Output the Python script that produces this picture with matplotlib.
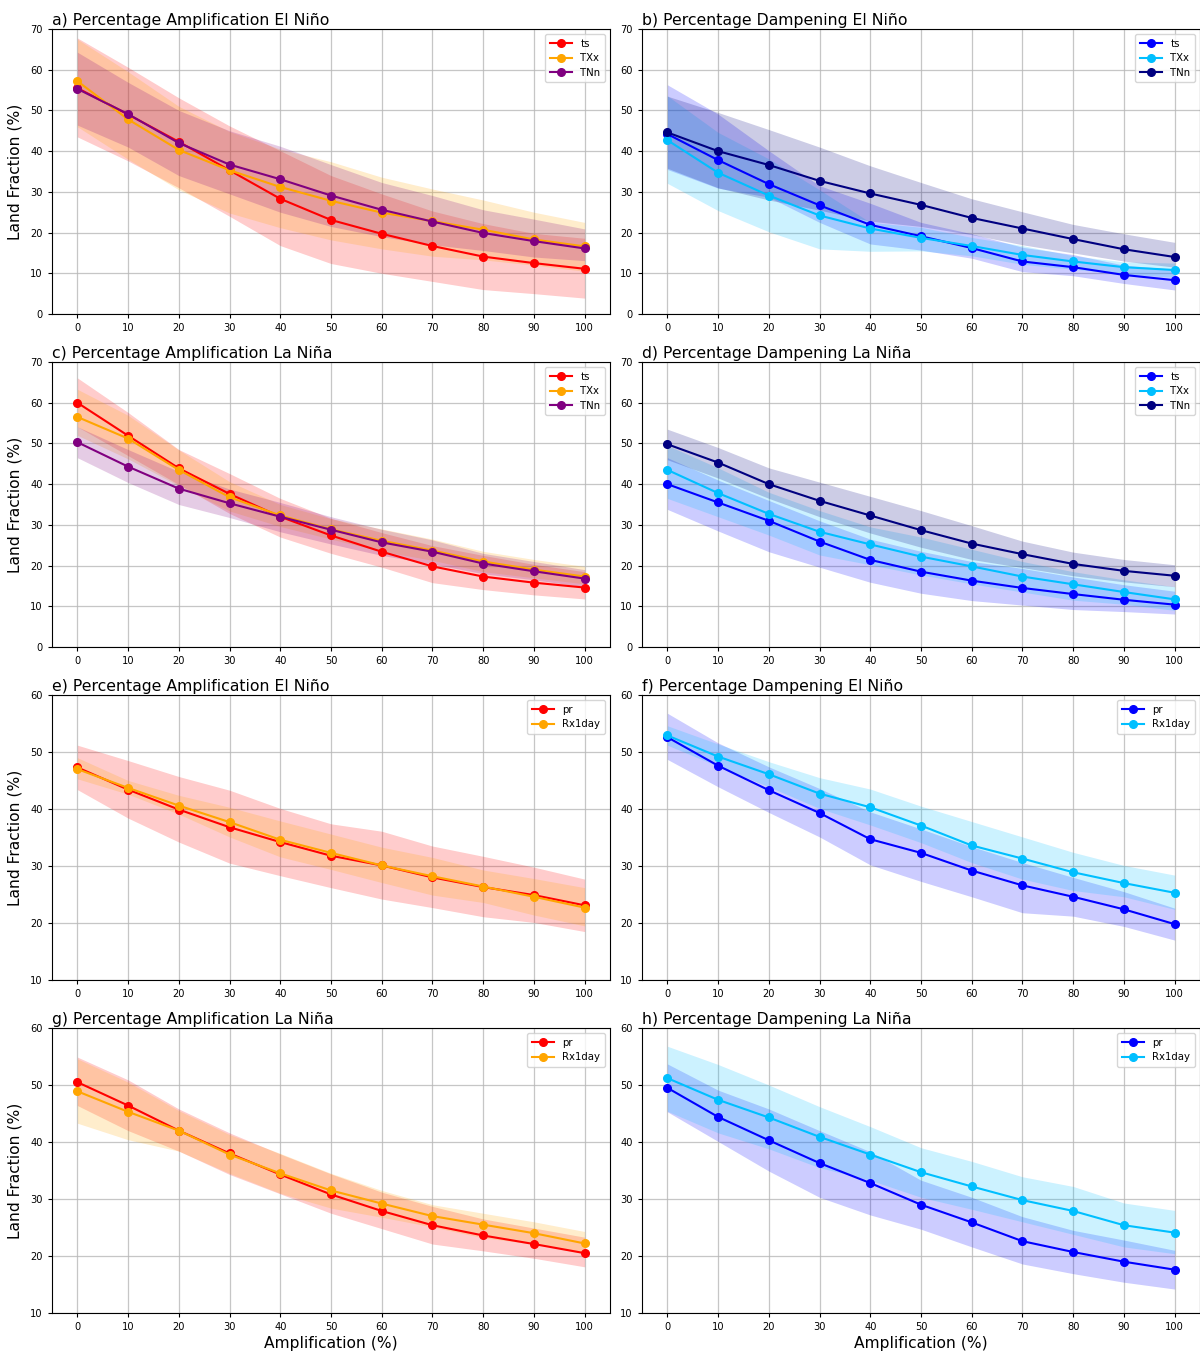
import matplotlib
matplotlib.use("Agg")
import matplotlib.pyplot as plt
import numpy as np

amp = [0, 10, 20, 30, 40, 50, 60, 70, 80, 90, 100]

# ---- a) Amplification El Nino (temperature)
a_ts = [55.5, 49.0, 42.3, 35.3, 28.3, 23.1, 19.7, 16.7, 14.1, 12.5, 11.1]
a_ts_lo = [43.5, 37.6, 31.0, 24.0, 16.8, 12.4, 10.0, 8.0, 6.0, 5.0, 3.9]
a_ts_hi = [67.8, 60.6, 53.1, 46.2, 40.1, 34.0, 29.5, 25.3, 22.2, 19.8, 18.6]
a_txx = [57.2, 47.8, 40.3, 35.3, 31.2, 27.8, 24.9, 22.8, 20.7, 18.3, 16.6]
a_txx_lo = [46.0, 38.0, 30.5, 24.8, 21.2, 18.2, 16.0, 14.2, 13.3, 12.0, 10.5]
a_txx_hi = [67.5, 59.5, 51.0, 44.8, 40.5, 37.4, 33.6, 30.7, 28.0, 25.0, 22.5]
a_tnn = [55.3, 49.1, 42.0, 36.7, 33.1, 29.1, 25.6, 22.7, 19.9, 17.9, 16.1]
a_tnn_lo = [46.4, 41.0, 34.0, 29.5, 25.0, 21.5, 19.0, 17.0, 15.6, 14.0, 13.1]
a_tnn_hi = [64.3, 56.9, 50.0, 45.0, 41.2, 36.7, 32.3, 29.1, 25.6, 23.3, 20.9]

# ---- b) Dampening El Nino (temperature)
b_ts = [44.2, 37.8, 31.9, 26.7, 21.9, 19.1, 16.2, 12.9, 11.5, 9.6, 8.3]
b_ts_lo = [35.5, 30.9, 28.7, 22.5, 17.2, 15.7, 13.7, 10.4, 9.4, 7.5, 5.9]
b_ts_hi = [56.3, 49.1, 40.1, 31.5, 27.2, 22.5, 19.7, 16.4, 14.6, 12.0, 11.0]
b_txx = [42.7, 34.7, 29.1, 24.2, 21.0, 18.7, 16.7, 14.5, 12.9, 11.5, 10.8]
b_txx_lo = [32.1, 25.4, 20.2, 16.0, 15.4, 15.5, 14.3, 12.2, 11.0, 9.8, 9.0]
b_txx_hi = [53.6, 44.6, 38.1, 30.5, 22.5, 21.3, 18.8, 16.8, 14.3, 12.8, 12.5]
b_tnn = [44.6, 40.0, 36.6, 32.7, 29.6, 26.8, 23.6, 21.0, 18.4, 15.9, 14.0]
b_tnn_lo = [35.8, 31.0, 28.0, 25.5, 22.8, 21.5, 19.5, 17.0, 15.0, 13.0, 11.5]
b_tnn_hi = [53.5, 49.5, 45.3, 41.0, 36.4, 32.3, 28.3, 25.1, 22.0, 19.7, 17.6]

# ---- c) Amplification La Nina (temperature)
c_ts = [60.0, 51.9, 43.9, 37.6, 32.0, 27.4, 23.4, 19.8, 17.3, 15.8, 14.6]
c_ts_lo = [54.1, 47.0, 39.9, 32.8, 27.0, 23.0, 19.6, 15.8, 14.1, 12.8, 11.8]
c_ts_hi = [66.1, 57.6, 48.5, 42.6, 36.5, 31.6, 28.1, 24.9, 22.5, 20.3, 18.5]
c_txx = [56.5, 51.2, 43.5, 36.8, 32.3, 28.9, 26.1, 23.7, 21.0, 19.0, 17.3]
c_txx_lo = [52.0, 46.2, 39.6, 33.4, 29.6, 26.5, 23.5, 21.3, 18.5, 17.0, 15.5]
c_txx_hi = [63.3, 56.9, 48.4, 40.6, 35.0, 31.5, 29.0, 26.5, 23.5, 21.5, 19.8]
c_tnn = [50.3, 44.3, 38.9, 35.3, 32.0, 28.8, 25.7, 23.4, 20.5, 18.6, 16.8]
c_tnn_lo = [46.5, 40.4, 35.0, 31.8, 28.3, 25.3, 22.5, 20.4, 18.0, 16.5, 14.8]
c_tnn_hi = [54.1, 48.5, 43.1, 38.8, 35.5, 32.0, 28.9, 26.3, 23.0, 21.0, 19.0]

# ---- d) Dampening La Nina (temperature)
d_ts = [40.0, 35.5, 31.0, 25.9, 21.4, 18.5, 16.3, 14.5, 13.0, 11.6, 10.4]
d_ts_lo = [33.8, 28.5, 23.4, 19.6, 15.9, 13.2, 11.4, 10.3, 9.2, 8.7, 8.1]
d_ts_hi = [46.5, 41.0, 36.0, 31.0, 26.5, 23.5, 21.0, 19.3, 17.2, 15.3, 13.7]
d_txx = [43.5, 37.8, 32.7, 28.3, 25.2, 22.2, 19.8, 17.3, 15.4, 13.5, 11.7]
d_txx_lo = [36.5, 32.0, 27.5, 22.6, 20.2, 17.7, 15.5, 13.5, 11.5, 10.5, 9.0]
d_txx_hi = [49.5, 44.0, 38.0, 33.5, 29.5, 27.0, 24.0, 21.0, 18.5, 16.5, 14.8]
d_tnn = [49.8, 45.3, 40.0, 35.9, 32.3, 28.7, 25.4, 22.8, 20.4, 18.7, 17.5]
d_tnn_lo = [46.0, 41.5, 36.5, 32.0, 28.0, 24.5, 21.5, 19.5, 17.5, 16.0, 14.8]
d_tnn_hi = [53.5, 49.0, 44.0, 40.5, 37.0, 33.5, 29.8, 26.0, 23.3, 21.5, 20.2]

# ---- e) Amplification El Nino (precipitation)
e_pr = [47.3, 43.4, 39.9, 36.8, 34.2, 31.8, 30.1, 28.0, 26.3, 24.9, 23.1]
e_pr_lo = [43.4, 38.4, 34.2, 30.5, 28.3, 26.2, 24.2, 22.7, 21.1, 20.1, 18.5]
e_pr_hi = [51.2, 48.5, 45.7, 43.3, 40.1, 37.4, 36.1, 33.5, 31.7, 29.8, 27.7]
e_rx = [47.0, 43.7, 40.6, 37.7, 34.6, 32.3, 30.1, 28.2, 26.4, 24.6, 22.7]
e_rx_lo = [45.3, 42.6, 39.1, 35.1, 31.6, 29.4, 27.1, 24.9, 23.6, 21.4, 19.5]
e_rx_hi = [49.0, 45.0, 42.4, 40.3, 37.9, 35.6, 33.3, 31.5, 29.3, 27.8, 26.2]

# ---- f) Dampening El Nino (precipitation)
f_pr = [52.6, 47.6, 43.3, 39.3, 34.7, 32.3, 29.2, 26.6, 24.6, 22.4, 19.8]
f_pr_lo = [48.7, 43.9, 39.4, 35.1, 30.2, 27.3, 24.6, 21.8, 21.2, 19.4, 17.0]
f_pr_hi = [56.8, 51.6, 47.4, 43.6, 39.5, 36.5, 33.4, 30.6, 28.0, 25.5, 22.6]
f_rx = [52.9, 49.2, 46.1, 42.7, 40.3, 37.1, 33.6, 31.3, 28.9, 27.0, 25.3]
f_rx_lo = [51.2, 47.5, 43.9, 40.1, 37.2, 34.1, 30.6, 27.7, 25.7, 24.6, 22.4]
f_rx_hi = [54.6, 51.4, 48.3, 45.5, 43.5, 40.5, 37.8, 35.1, 32.4, 30.1, 28.4]

# ---- g) Amplification La Nina (precipitation)
g_pr = [50.5, 46.4, 42.0, 38.0, 34.3, 30.8, 27.9, 25.4, 23.6, 22.1, 20.5]
g_pr_lo = [46.4, 42.0, 38.4, 34.3, 30.9, 27.5, 24.8, 22.1, 20.9, 19.6, 18.1]
g_pr_hi = [54.9, 50.9, 45.8, 41.6, 37.9, 34.4, 31.2, 28.7, 26.5, 24.9, 23.3]
g_rx = [48.9, 45.3, 42.0, 37.8, 34.5, 31.5, 29.2, 27.0, 25.5, 24.0, 22.2]
g_rx_lo = [43.3, 40.4, 38.4, 34.5, 31.0, 28.4, 26.8, 25.1, 23.2, 22.1, 20.4]
g_rx_hi = [54.6, 50.5, 45.5, 41.3, 38.0, 34.5, 31.5, 29.0, 27.5, 26.0, 24.3]

# ---- h) Dampening La Nina (precipitation)
h_pr = [49.5, 44.4, 40.3, 36.3, 32.8, 29.0, 25.9, 22.6, 20.7, 19.0, 17.6]
h_pr_lo = [45.3, 40.1, 34.9, 30.3, 27.2, 24.7, 21.6, 18.6, 16.9, 15.4, 14.2]
h_pr_hi = [53.7, 49.1, 45.8, 42.0, 38.3, 33.3, 30.3, 26.9, 24.5, 22.8, 21.0]
h_rx = [51.2, 47.4, 44.3, 40.9, 37.8, 34.7, 32.2, 29.8, 27.9, 25.4, 24.1]
h_rx_lo = [45.4, 41.6, 38.8, 35.5, 33.3, 30.3, 28.2, 26.0, 23.8, 21.6, 20.4]
h_rx_hi = [56.8, 53.6, 50.0, 46.2, 42.7, 39.0, 36.6, 33.9, 32.2, 29.3, 28.0]

titles = ["a) Percentage Amplification El Niño", "b) Percentage Dampening El Niño",
          "c) Percentage Amplification La Niña", "d) Percentage Dampening La Niña",
          "e) Percentage Amplification El Niño", "f) Percentage Dampening El Niño",
          "g) Percentage Amplification La Niña", "h) Percentage Dampening La Niña"]
temp_labels = ["ts", "TXx", "TNn"]
prec_labels = ["pr", "Rx1day"]
warm_colors = ["red", "orange", "purple"]
cool_colors = ["blue", "deepskyblue", "navy"]

panels = [
    ([(a_ts, a_ts_lo, a_ts_hi), (a_txx, a_txx_lo, a_txx_hi), (a_tnn, a_tnn_lo, a_tnn_hi)], temp_labels, warm_colors, (0, 70)),
    ([(b_ts, b_ts_lo, b_ts_hi), (b_txx, b_txx_lo, b_txx_hi), (b_tnn, b_tnn_lo, b_tnn_hi)], temp_labels, cool_colors, (0, 70)),
    ([(c_ts, c_ts_lo, c_ts_hi), (c_txx, c_txx_lo, c_txx_hi), (c_tnn, c_tnn_lo, c_tnn_hi)], temp_labels, warm_colors, (0, 70)),
    ([(d_ts, d_ts_lo, d_ts_hi), (d_txx, d_txx_lo, d_txx_hi), (d_tnn, d_tnn_lo, d_tnn_hi)], temp_labels, cool_colors, (0, 70)),
    ([(e_pr, e_pr_lo, e_pr_hi), (e_rx, e_rx_lo, e_rx_hi)], prec_labels, warm_colors, (10, 60)),
    ([(f_pr, f_pr_lo, f_pr_hi), (f_rx, f_rx_lo, f_rx_hi)], prec_labels, cool_colors, (10, 60)),
    ([(g_pr, g_pr_lo, g_pr_hi), (g_rx, g_rx_lo, g_rx_hi)], prec_labels, warm_colors, (10, 60)),
    ([(h_pr, h_pr_lo, h_pr_hi), (h_rx, h_rx_lo, h_rx_hi)], prec_labels, cool_colors, (10, 60)),
]

W, H = 1200, 1353
fig = plt.figure(figsize=(W / 100, H / 100), dpi=100)

lefts = [52 / W, 642 / W]
width = 558 / W
tops = [29, 362, 695, 1028]
height = 285 / H

for i, (series, labels, colors, ylim) in enumerate(panels):
    row, col = divmod(i, 2)
    ax = fig.add_axes([lefts[col], 1 - (tops[row] + 285) / H, width, height])
    for (y, lo, hi), lab, c in zip(series, labels, colors):
        ax.fill_between(amp, lo, hi, color=c, alpha=0.2, linewidth=0)
        ax.plot(amp, y, marker="o", color=c, label=lab, linewidth=1.5, markersize=5.5)
    ax.set_xlim(-5, 105)
    ax.set_ylim(*ylim)
    ax.set_xticks(amp)
    ax.set_yticks(np.arange(ylim[0], ylim[1] + 1, 10))
    ax.tick_params(labelsize=7.1, length=3)
    ax.grid(True, color="#b8b8b8", linewidth=0.9, alpha=0.8)
    ax.set_axisbelow(True)
    ax.set_title(titles[i], loc="left", fontsize=11.3, pad=3)
    ax.legend(loc="upper right", fontsize=7.3, handlelength=2.2, borderpad=0.45,
              labelspacing=0.45)
    if col == 0:
        ax.set_ylabel("Land Fraction (%)", fontsize=11.2, labelpad=6)
    if row == 3:
        ax.set_xlabel("Amplification (%)", fontsize=11.2, labelpad=3)

fig.savefig("out.png", dpi=100)
